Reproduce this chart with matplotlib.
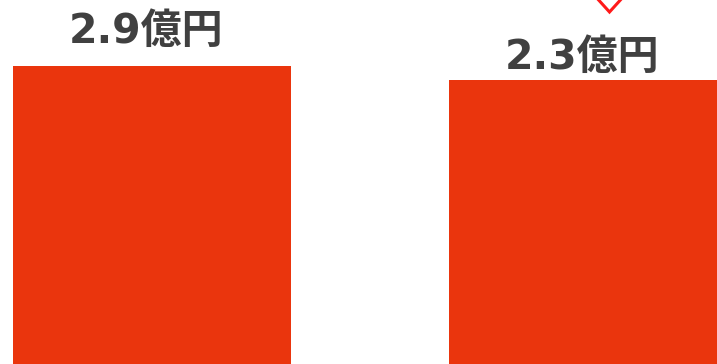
import matplotlib
matplotlib.use("Agg")
import matplotlib.pyplot as plt
import numpy as np

categories = ["A", "B"]
values = [2.9, 2.3]
labels = ["2.9億円", "2.3億円"]

BAR_COLOR = "#EA350D"
TEXT_COLOR = "#404040"

plt.rcParams['font.family'] = ['DejaVu Sans', 'Noto Sans CJK JP']

W, H = 717, 364
fig = plt.figure(figsize=(W / 100, H / 100), dpi=100)
ax = fig.add_axes([0, 0, 1, 1])

px_per_x = 436.0
x = np.arange(len(categories))
xl = -152.0 / px_per_x
ax.set_xlim(xl, xl + W / px_per_x)

s = 14.0 / (values[0] - values[1])  # px per unit
ymax = values[0] + 66.0 / s
ymin = ymax - H / s
ax.set_ylim(ymin, ymax)

base = ymin - 1.0
ax.bar(x, np.array(values) - base, bottom=base, width=278.0 / px_per_x,
       color=BAR_COLOR, edgecolor="none")

# label vertical centres (pixels from top)
label_px = [32.0, 58.0]
for xi, lab, py in zip(x, labels, label_px):
    ax.text(xi - 6.0 / px_per_x, ymax - py / s, lab, ha="center", va="center",
            fontsize=29.5, fontweight="bold", color=TEXT_COLOR)

# red chevron at top right (decoration)
cx = [(595 / W), (609.5 / W), (624 / W)]
cy = [1 + 4 / H, 1 - 12 / H, 1 + 4 / H]
ax.plot(cx, cy, transform=ax.transAxes, color="#FF1A1A", lw=2.2,
        solid_joinstyle="miter", clip_on=False)

ax.axis("off")
fig.savefig("out.png", dpi=100, facecolor="white")
